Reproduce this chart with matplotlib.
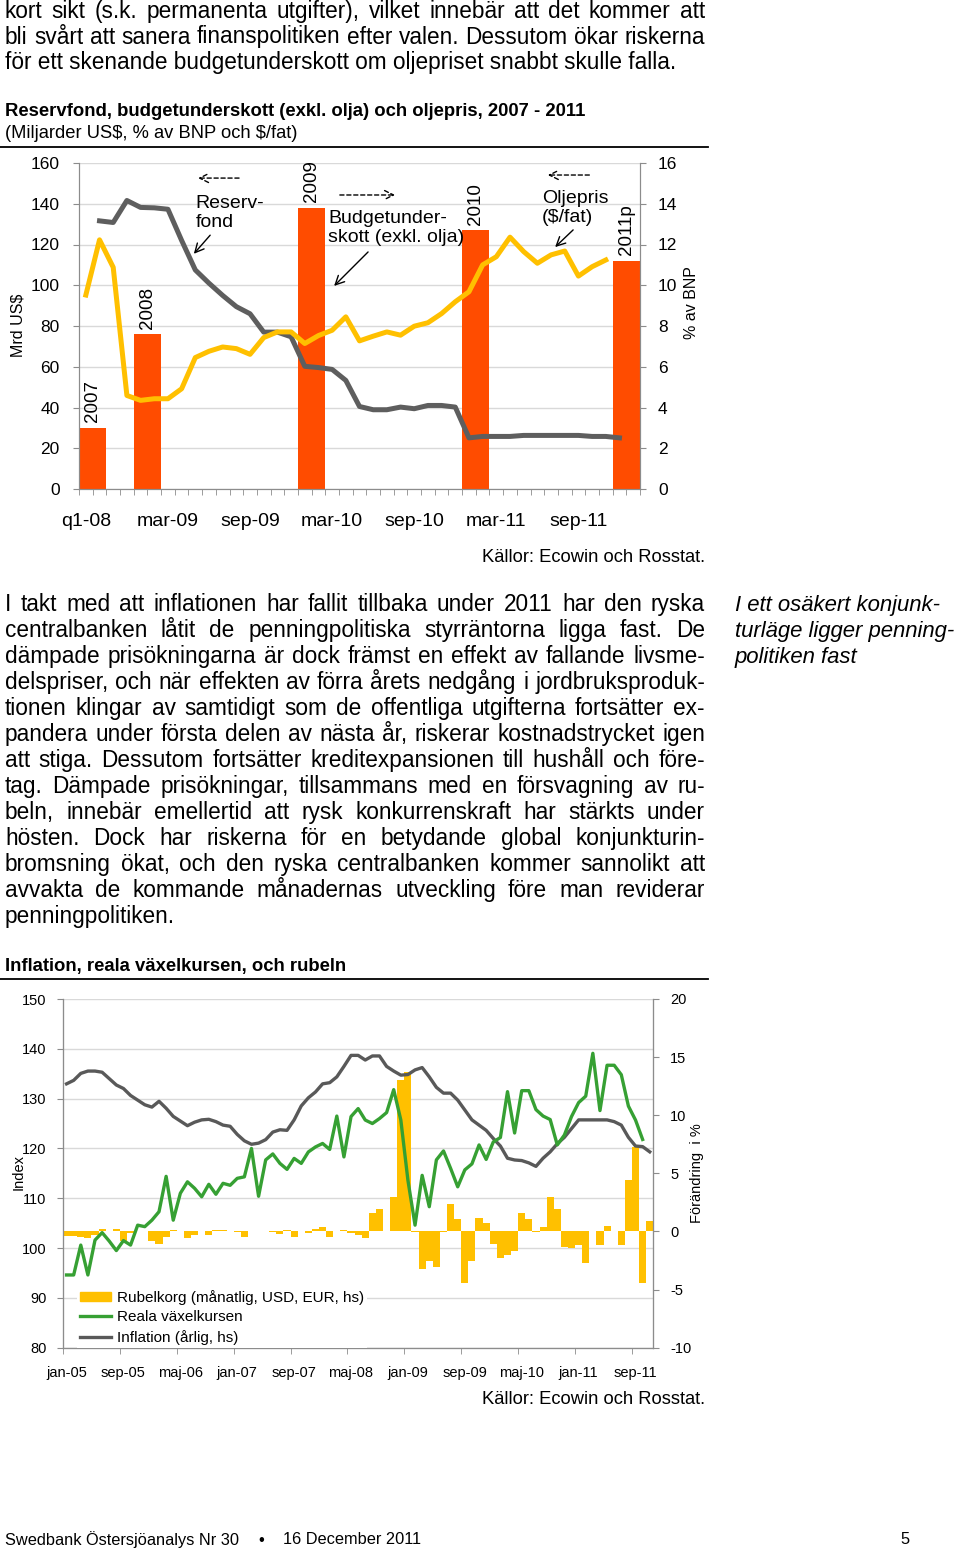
import unicodedata
import numpy as np
import matplotlib
matplotlib.use('Agg')
import matplotlib.pyplot as plt
from matplotlib.lines import Line2D
from matplotlib.patches import Patch

plt.rcParams['font.family'] = ['Liberation Sans', 'DejaVu Sans']
plt.rcParams['text.parse_math'] = False
plt.rcParams['axes.unicode_minus'] = False

W, H = 960, 1553

# Reservfond, budgetunderskott och oljepris (41 kategorier)
top_n = 41
top_xlabels = ['q1-08', 'mar-09', 'sep-09', 'mar-10', 'sep-10', 'mar-11', 'sep-11']
reserve_first = 1
reserve = [131.6, 130.8, 141.6, 138.2, 138.0, 137.3, 122.0, 107.5, 101.0, 95.0,
           89.5, 86.0, 77.0, 77.0, 74.7, 60.2, 59.6, 58.7, 53.3, 40.5,
           38.9, 38.9, 40.2, 39.4, 41.0, 41.0, 40.2, 25.1, 25.8, 25.8,
           25.8, 26.3, 26.3, 26.3, 26.3, 26.3, 25.8, 25.8, 25.1]
oil = [95.2, 122.3, 108.8, 45.9, 43.5, 44.3, 44.3, 49.2, 64.5, 67.6,
       69.7, 68.9, 66.1, 74.3, 77.1, 77.1, 71.4, 75.3, 77.9, 84.5,
       72.7, 75.0, 77.1, 75.5, 79.9, 81.6, 86.1, 91.9, 96.8, 110.0,
       114.0, 123.6, 116.5, 110.8, 114.9, 116.8, 104.5, 109.1, 112.4]
deficit_years = ['2007', '2008', '2009', '2010', '2011p']
deficit_cat = [0, 4, 16, 28, 39]
deficit = [3.0, 7.6, 13.8, 12.7, 11.2]

# Inflation, reala växelkursen och rubeln (jan-05 .. nov-11)
month_names = ['jan', 'feb', 'mar', 'apr', 'maj', 'jun', 'jul', 'aug', 'sep', 'okt', 'nov', 'dec']
months = [m + '-%02d' % y for y in range(5, 12) for m in month_names][:83]
real_fx = [94.6, 94.6, 100.6, 94.6, 101.6, 103.1, 101.4, 99.5, 101.5, 100.6,
           104.6, 104.3, 105.6, 107.3, 114.4, 105.6, 111.0, 113.3, 112.0, 110.3,
           112.8, 110.8, 113.0, 112.6, 114.0, 114.3, 120.0, 110.4, 117.7, 118.9,
           117.0, 115.8, 118.0, 117.0, 119.3, 120.3, 121.0, 119.8, 126.5, 118.3,
           126.4, 128.0, 125.7, 125.0, 126.0, 127.2, 131.8, 125.7, 113.6, 104.6,
           114.6, 108.3, 117.7, 119.5, 116.0, 112.3, 115.7, 116.9, 120.7, 117.8,
           121.3, 122.2, 131.4, 123.1, 131.6, 131.6, 127.8, 126.5, 125.8, 120.7,
           122.7, 126.4, 129.2, 130.5, 139.1, 127.6, 136.7, 136.7, 134.8, 128.5,
           125.7, 121.8]
inflation = [12.7, 13.0, 13.6, 13.8, 13.8, 13.7, 13.15, 12.6, 12.3, 11.7,
             11.3, 10.9, 10.7, 11.2, 10.6, 9.9, 9.5, 9.1, 9.4, 9.6,
             9.65, 9.45, 9.15, 9.05, 8.35, 7.8, 7.5, 7.6, 7.9, 8.55,
             8.75, 8.7, 9.6, 10.8, 11.5, 12.0, 12.7, 12.8, 13.3, 14.2,
             15.15, 15.15, 14.75, 15.1, 15.1, 14.2, 13.8, 13.45, 13.5, 13.9,
             14.1, 13.3, 12.4, 11.9, 11.9, 11.3, 10.45, 9.6, 9.15, 8.7,
             8.0, 7.35, 6.3, 6.15, 6.1, 5.9, 5.6, 6.3, 6.85, 7.55,
             8.1, 8.85, 9.6, 9.6, 9.6, 9.6, 9.6, 9.45, 9.15, 8.1,
             7.35, 7.3, 6.85]
ruble = [-0.4, -0.4, -0.45, -0.6, -0.3, 0.2, 0.0, 0.2, -0.85, -0.1,
         0.05, 0.0, -0.8, -1.1, -0.45, 0.15, 0.05, -0.6, -0.3, 0.05,
         -0.3, 0.15, 0.15, 0.0, -0.05, -0.45, 0.0, 0.05, 0.0, -0.05,
         -0.25, 0.15, -0.45, 0.0, -0.1, 0.2, 0.4, -0.45, 0.05, 0.15,
         -0.1, -0.3, -0.6, 1.6, 1.9, 0.0, 3.0, 13.05, 13.75, -0.05,
         -3.2, -2.5, -3.1, -0.05, 2.35, 1.1, -4.4, -2.5, 1.2, 0.75,
         -1.1, -2.3, -2.0, -1.65, 1.55, 1.1, -0.05, 0.35, 2.95, 1.9,
         -1.3, -1.45, -1.2, -2.75, 0.05, -1.2, 0.5, 0.05, -1.2, 4.45,
         7.3, -4.4, 0.9]

top_lines = [
    'kort sikt (s.k. permanenta utgifter), vilket innebär att det kommer att',
    'bli svårt att sanera finanspolitiken efter valen. Dessutom ökar riskerna',
    'för ett skenande budgetunderskott om oljepriset snabbt skulle falla.',
]
body_lines = [
    'I takt med att inflationen har fallit tillbaka under 2011 har den ryska',
    'centralbanken låtit de penningpolitiska styrräntorna ligga fast. De',
    'dämpade prisökningarna är dock främst en effekt av fallande livsme-',
    'delspriser, och när effekten av förra årets nedgång i jordbruksproduk-',
    'tionen klingar av samtidigt som de offentliga utgifterna fortsätter ex-',
    'pandera under första delen av nästa år, riskerar kostnadstrycket igen',
    'att stiga. Dessutom fortsätter kreditexpansionen till hushåll och före-',
    'tag. Dämpade prisökningar, tillsammans med en försvagning av ru-',
    'beln, innebär emellertid att rysk konkurrenskraft har stärkts under',
    'hösten. Dock har riskerna för en betydande global konjunkturin-',
    'bromsning ökat, och den ryska centralbanken kommer sannolikt att',
    'avvakta de kommande månadernas utveckling före man reviderar',
    'penningpolitiken.',
]
side_lines = ['I ett osäkert konjunk-', 'turläge ligger penning-', 'politiken fast']

ORANGE = '#FF4C00'
GOLD = '#FFC000'
DARK = '#5E5E5E'
GREEN = '#36A033'
SPINE = '#8C8C8C'
GRID = '#D9D9D9'
BODY = 16.3

fig = plt.figure(figsize=(W / 100, H / 100), dpi=100)


def fy(y):
    return 1 - y / H


def put(x, y, s, **kw):
    kw.setdefault('va', 'center')
    return fig.text(x / W, fy(y), unicodedata.normalize('NFC', s), **kw)


def line_text(x, y, s, size=BODY, **kw):
    # y is the visual centre of the line, text sits on its baseline
    return put(x, y + 6, s, fontsize=size, va='baseline', **kw)


def justify(line, y, size=BODY, x0=5, x1=705):
    words = line.split(' ')
    texts = [line_text(x0, y, w, size) for w in words]
    r = fig.canvas.get_renderer()
    ws = [t.get_window_extent(r).width for t in texts]
    gap = (x1 - x0 - sum(ws)) / (len(ws) - 1)
    x = x0
    for t, w in zip(texts, ws):
        t.set_x(x / W)
        x += w + gap


def rule(y):
    fig.add_artist(Line2D([0, 708 / W], [fy(y), fy(y)], color='black', lw=1.3,
                          transform=fig.transFigure))


# sidtext
for i, line in enumerate(top_lines):
    if i < len(top_lines) - 1:
        justify(line, 12 + 25.5 * i)
    else:
        line_text(5, 12 + 25.5 * i, line)
put(5, 112, 'Reservfond, budgetunderskott (exkl. olja) och oljepris, 2007 - 2011',
    fontsize=13.3, fontweight='bold')
put(5, 133, '(Miljarder US$, % av BNP och $/fat)', fontsize=13.2)
rule(147)
put(705, 557, 'Källor: Ecowin och Rosstat.', fontsize=13.2, ha='right')

for i, line in enumerate(body_lines):
    if i < len(body_lines) - 1:
        justify(line, 605 + 26 * i)
    else:
        line_text(5, 605 + 26 * i, line)
for i, line in enumerate(side_lines):
    line_text(735, 605 + 26 * i, line, size=15.9, style='italic')

put(5, 966, 'Inflation, reala växelkursen, och rubeln', fontsize=13.3, fontweight='bold')
rule(979)
put(705, 1400, 'Källor: Ecowin och Rosstat.', fontsize=13.2, ha='right')

put(5, 1540, 'Swedbank Östersjöanalys Nr 30', fontsize=11.8)
put(261, 1540, '•', fontsize=11.8, ha='center')
put(283, 1540, '16 December 2011', fontsize=11.8)
put(900, 1540, '5', fontsize=11.8)

# ---- diagram 1 ----
ax = fig.add_axes([79 / W, fy(489), 561 / W, 326 / H])
ax2 = ax.twinx()
ax.set_zorder(ax2.get_zorder() + 1)
ax.patch.set_visible(False)

xc = np.arange(top_n)
ax2.bar(np.array(deficit_cat) + 0.5, deficit, width=2, color=ORANGE, zorder=2)
for c, v, lab in zip(deficit_cat, deficit, deficit_years):
    ax2.annotate(lab, (c + 0.5, v), xytext=(0, 4), textcoords='offset points',
                 rotation=90, ha='center', va='bottom', fontsize=13.5)
ax2.set_ylim(0, 16)
ax2.set_yticks(range(0, 17, 2))
ax2.grid(axis='y', color=GRID, lw=1)
ax2.set_axisbelow(True)

ax.plot(xc[reserve_first:reserve_first + len(reserve)], reserve, color=DARK, lw=3.6,
        solid_joinstyle='round')
ax.plot(xc[:len(oil)], oil, color=GOLD, lw=3.6, solid_joinstyle='round')
ax.set_xlim(-0.5, top_n - 0.5)
ax.set_ylim(0, 160)
ax.set_yticks(range(0, 161, 20))
ax.set_xticks(xc[::6])
ax.set_xticklabels(top_xlabels)
ax.set_xticks(np.arange(-0.5, top_n), minor=True)
ax.tick_params(axis='x', which='major', length=0, pad=17, labelsize=14)
ax.tick_params(axis='x', which='minor', length=4, color=SPINE)
ax.tick_params(axis='y', length=4, color=SPINE, pad=10, labelsize=12.5)
ax2.tick_params(axis='y', length=4, color=SPINE, pad=9, labelsize=12.5)
for a in (ax, ax2):
    a.spines['top'].set_visible(False)
    for s in ('left', 'right', 'bottom'):
        a.spines[s].set_color(SPINE)

put(18, 325, 'Mrd US$', rotation=90, ha='center', fontsize=11.5)
put(692, 303, '% av BNP', rotation=90, ha='center', fontsize=11.5)

# pilar och etiketter
solid = dict(arrowstyle='->', color='black', lw=1, mutation_scale=16)
dashed = dict(arrowstyle='->', color='black', lw=1, mutation_scale=16, linestyle=(0, (3, 2)))
ax.text(8.0, 135.5, 'Reserv-\nfond', fontsize=14, va='center', linespacing=1.15)
ax.annotate('', xy=(7.76, 114.4), xytext=(9.22, 125.6), arrowprops=solid)
ax.annotate('', xy=(8.0, 152.6), xytext=(11.4, 152.6), arrowprops=dashed)
ax.text(17.7, 128.0, 'Budgetunder-\nskott (exkl. olja)', fontsize=14, va='center',
        linespacing=1.15)
ax.annotate('', xy=(18.0, 98.7), xytext=(20.77, 117.3), arrowprops=solid)
ax.annotate('', xy=(22.8, 144.3), xytext=(18.36, 144.3), arrowprops=dashed)
ax.text(33.35, 138.0, 'Oljepris\n($/fat)', fontsize=14, va='center', linespacing=1.15)
ax.annotate('', xy=(34.15, 117.8), xytext=(35.76, 128.1), arrowprops=solid)
ax.annotate('', xy=(33.56, 154.1), xytext=(37.0, 154.1), arrowprops=dashed)

# ---- diagram 2 ----
bx = fig.add_axes([63 / W, fy(1347.7), 590.3 / W, 348.7 / H])
bx2 = bx.twinx()
bx3 = bx.twinx()

nm = len(months)
xm = np.arange(nm)
bx.set_ylim(80, 150)
bx.set_yticks(range(80, 151, 10))
bx.grid(axis='y', color=GRID, lw=1)
bx.set_xlim(-0.5, nm - 0.5)
bx.set_xticks(xm[::8])
bx.set_xticklabels(months[::8])
bx.set_xticks(np.arange(-0.5, nm, 8), minor=True)
bx.tick_params(axis='x', which='major', length=0, pad=13, labelsize=10.5)
bx.tick_params(axis='x', which='minor', length=4, color=SPINE)
bx.tick_params(axis='y', length=4, color=SPINE, pad=8, labelsize=10.5)

bx2.bar(xm[:len(ruble)], ruble, width=1.0, color=GOLD, zorder=2)
bx2.plot(xm[:len(inflation)], inflation, color='#595959', lw=2.4, zorder=3)
bx2.set_ylim(-10, 20)
bx2.set_yticks(range(-10, 21, 5))
bx2.tick_params(axis='y', length=4, color=SPINE, pad=8, labelsize=10.5)

bx3.plot(xm[:len(real_fx)], real_fx, color=GREEN, lw=2.4)
bx3.set_ylim(80, 150)
bx3.yaxis.set_visible(False)

for a in (bx, bx2, bx3):
    a.spines['top'].set_visible(False)
    for s in ('left', 'right', 'bottom'):
        a.spines[s].set_color(SPINE)

handles = [Patch(color=GOLD), Line2D([], [], color=GREEN, lw=2.4),
           Line2D([], [], color='#595959', lw=2.4)]
labels = ['Rubelkorg (månatlig, USD, EUR, hs)', 'Reala växelkursen', 'Inflation (årlig, hs)']
leg = bx3.legend(handles, labels, loc='lower left', bbox_to_anchor=(0.024, 0.0),
                 fontsize=11, frameon=True, framealpha=1, edgecolor='none',
                 fancybox=False, handlelength=2.0, handleheight=0.5,
                 handletextpad=0.4, labelspacing=0.35, borderpad=0.2,
                 borderaxespad=0.0)

put(19, 1172, 'Index', rotation=90, ha='center', fontsize=10.5)
put(697, 1173, 'Förändring  i %', rotation=90, ha='center', fontsize=10.5)

fig.savefig('out.png', dpi=100, facecolor='white')
